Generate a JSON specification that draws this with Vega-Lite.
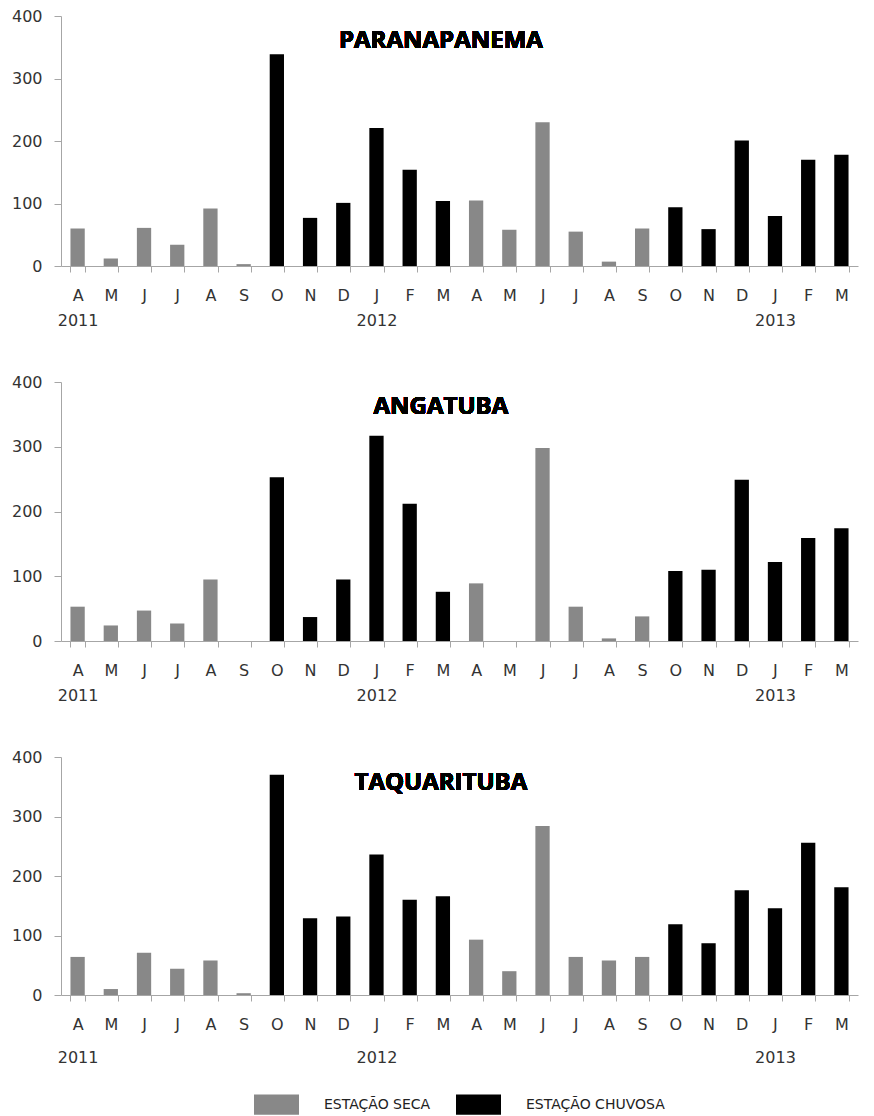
{
  "$schema": "https://vega.github.io/schema/vega-lite/v6.json",
  "padding": {"left": 11, "top": 8, "right": 5, "bottom": 0},
  "data": {
    "values": [
      {"posto": "PARANAPANEMA", "mes": "2011-04", "valor": 60, "periodo": "ESTAÇÃO SECA"},
      {"posto": "PARANAPANEMA", "mes": "2011-05", "valor": 12, "periodo": "ESTAÇÃO SECA"},
      {"posto": "PARANAPANEMA", "mes": "2011-06", "valor": 61, "periodo": "ESTAÇÃO SECA"},
      {"posto": "PARANAPANEMA", "mes": "2011-07", "valor": 34, "periodo": "ESTAÇÃO SECA"},
      {"posto": "PARANAPANEMA", "mes": "2011-08", "valor": 92, "periodo": "ESTAÇÃO SECA"},
      {"posto": "PARANAPANEMA", "mes": "2011-09", "valor": 3, "periodo": "ESTAÇÃO SECA"},
      {"posto": "PARANAPANEMA", "mes": "2011-10", "valor": 339, "periodo": "ESTAÇÃO CHUVOSA"},
      {"posto": "PARANAPANEMA", "mes": "2011-11", "valor": 77, "periodo": "ESTAÇÃO CHUVOSA"},
      {"posto": "PARANAPANEMA", "mes": "2011-12", "valor": 101, "periodo": "ESTAÇÃO CHUVOSA"},
      {"posto": "PARANAPANEMA", "mes": "2012-01", "valor": 221, "periodo": "ESTAÇÃO CHUVOSA"},
      {"posto": "PARANAPANEMA", "mes": "2012-02", "valor": 154, "periodo": "ESTAÇÃO CHUVOSA"},
      {"posto": "PARANAPANEMA", "mes": "2012-03", "valor": 104, "periodo": "ESTAÇÃO CHUVOSA"},
      {"posto": "PARANAPANEMA", "mes": "2012-04", "valor": 105, "periodo": "ESTAÇÃO SECA"},
      {"posto": "PARANAPANEMA", "mes": "2012-05", "valor": 58, "periodo": "ESTAÇÃO SECA"},
      {"posto": "PARANAPANEMA", "mes": "2012-06", "valor": 230, "periodo": "ESTAÇÃO SECA"},
      {"posto": "PARANAPANEMA", "mes": "2012-07", "valor": 55, "periodo": "ESTAÇÃO SECA"},
      {"posto": "PARANAPANEMA", "mes": "2012-08", "valor": 7, "periodo": "ESTAÇÃO SECA"},
      {"posto": "PARANAPANEMA", "mes": "2012-09", "valor": 60, "periodo": "ESTAÇÃO SECA"},
      {"posto": "PARANAPANEMA", "mes": "2012-10", "valor": 94, "periodo": "ESTAÇÃO CHUVOSA"},
      {"posto": "PARANAPANEMA", "mes": "2012-11", "valor": 59, "periodo": "ESTAÇÃO CHUVOSA"},
      {"posto": "PARANAPANEMA", "mes": "2012-12", "valor": 201, "periodo": "ESTAÇÃO CHUVOSA"},
      {"posto": "PARANAPANEMA", "mes": "2013-01", "valor": 80, "periodo": "ESTAÇÃO CHUVOSA"},
      {"posto": "PARANAPANEMA", "mes": "2013-02", "valor": 170, "periodo": "ESTAÇÃO CHUVOSA"},
      {"posto": "PARANAPANEMA", "mes": "2013-03", "valor": 178, "periodo": "ESTAÇÃO CHUVOSA"},
      {"posto": "ANGATUBA", "mes": "2011-04", "valor": 53, "periodo": "ESTAÇÃO SECA"},
      {"posto": "ANGATUBA", "mes": "2011-05", "valor": 24, "periodo": "ESTAÇÃO SECA"},
      {"posto": "ANGATUBA", "mes": "2011-06", "valor": 47, "periodo": "ESTAÇÃO SECA"},
      {"posto": "ANGATUBA", "mes": "2011-07", "valor": 27, "periodo": "ESTAÇÃO SECA"},
      {"posto": "ANGATUBA", "mes": "2011-08", "valor": 95, "periodo": "ESTAÇÃO SECA"},
      {"posto": "ANGATUBA", "mes": "2011-09", "valor": 0, "periodo": "ESTAÇÃO SECA"},
      {"posto": "ANGATUBA", "mes": "2011-10", "valor": 253, "periodo": "ESTAÇÃO CHUVOSA"},
      {"posto": "ANGATUBA", "mes": "2011-11", "valor": 37, "periodo": "ESTAÇÃO CHUVOSA"},
      {"posto": "ANGATUBA", "mes": "2011-12", "valor": 95, "periodo": "ESTAÇÃO CHUVOSA"},
      {"posto": "ANGATUBA", "mes": "2012-01", "valor": 317, "periodo": "ESTAÇÃO CHUVOSA"},
      {"posto": "ANGATUBA", "mes": "2012-02", "valor": 212, "periodo": "ESTAÇÃO CHUVOSA"},
      {"posto": "ANGATUBA", "mes": "2012-03", "valor": 76, "periodo": "ESTAÇÃO CHUVOSA"},
      {"posto": "ANGATUBA", "mes": "2012-04", "valor": 89, "periodo": "ESTAÇÃO SECA"},
      {"posto": "ANGATUBA", "mes": "2012-05", "valor": 0, "periodo": "ESTAÇÃO SECA"},
      {"posto": "ANGATUBA", "mes": "2012-06", "valor": 298, "periodo": "ESTAÇÃO SECA"},
      {"posto": "ANGATUBA", "mes": "2012-07", "valor": 53, "periodo": "ESTAÇÃO SECA"},
      {"posto": "ANGATUBA", "mes": "2012-08", "valor": 4, "periodo": "ESTAÇÃO SECA"},
      {"posto": "ANGATUBA", "mes": "2012-09", "valor": 38, "periodo": "ESTAÇÃO SECA"},
      {"posto": "ANGATUBA", "mes": "2012-10", "valor": 108, "periodo": "ESTAÇÃO CHUVOSA"},
      {"posto": "ANGATUBA", "mes": "2012-11", "valor": 110, "periodo": "ESTAÇÃO CHUVOSA"},
      {"posto": "ANGATUBA", "mes": "2012-12", "valor": 249, "periodo": "ESTAÇÃO CHUVOSA"},
      {"posto": "ANGATUBA", "mes": "2013-01", "valor": 122, "periodo": "ESTAÇÃO CHUVOSA"},
      {"posto": "ANGATUBA", "mes": "2013-02", "valor": 159, "periodo": "ESTAÇÃO CHUVOSA"},
      {"posto": "ANGATUBA", "mes": "2013-03", "valor": 174, "periodo": "ESTAÇÃO CHUVOSA"},
      {"posto": "TAQUARITUBA", "mes": "2011-04", "valor": 64, "periodo": "ESTAÇÃO SECA"},
      {"posto": "TAQUARITUBA", "mes": "2011-05", "valor": 10, "periodo": "ESTAÇÃO SECA"},
      {"posto": "TAQUARITUBA", "mes": "2011-06", "valor": 71, "periodo": "ESTAÇÃO SECA"},
      {"posto": "TAQUARITUBA", "mes": "2011-07", "valor": 44, "periodo": "ESTAÇÃO SECA"},
      {"posto": "TAQUARITUBA", "mes": "2011-08", "valor": 58, "periodo": "ESTAÇÃO SECA"},
      {"posto": "TAQUARITUBA", "mes": "2011-09", "valor": 3, "periodo": "ESTAÇÃO SECA"},
      {"posto": "TAQUARITUBA", "mes": "2011-10", "valor": 370, "periodo": "ESTAÇÃO CHUVOSA"},
      {"posto": "TAQUARITUBA", "mes": "2011-11", "valor": 129, "periodo": "ESTAÇÃO CHUVOSA"},
      {"posto": "TAQUARITUBA", "mes": "2011-12", "valor": 132, "periodo": "ESTAÇÃO CHUVOSA"},
      {"posto": "TAQUARITUBA", "mes": "2012-01", "valor": 236, "periodo": "ESTAÇÃO CHUVOSA"},
      {"posto": "TAQUARITUBA", "mes": "2012-02", "valor": 160, "periodo": "ESTAÇÃO CHUVOSA"},
      {"posto": "TAQUARITUBA", "mes": "2012-03", "valor": 166, "periodo": "ESTAÇÃO CHUVOSA"},
      {"posto": "TAQUARITUBA", "mes": "2012-04", "valor": 93, "periodo": "ESTAÇÃO SECA"},
      {"posto": "TAQUARITUBA", "mes": "2012-05", "valor": 40, "periodo": "ESTAÇÃO SECA"},
      {"posto": "TAQUARITUBA", "mes": "2012-06", "valor": 284, "periodo": "ESTAÇÃO SECA"},
      {"posto": "TAQUARITUBA", "mes": "2012-07", "valor": 64, "periodo": "ESTAÇÃO SECA"},
      {"posto": "TAQUARITUBA", "mes": "2012-08", "valor": 58, "periodo": "ESTAÇÃO SECA"},
      {"posto": "TAQUARITUBA", "mes": "2012-09", "valor": 64, "periodo": "ESTAÇÃO SECA"},
      {"posto": "TAQUARITUBA", "mes": "2012-10", "valor": 119, "periodo": "ESTAÇÃO CHUVOSA"},
      {"posto": "TAQUARITUBA", "mes": "2012-11", "valor": 87, "periodo": "ESTAÇÃO CHUVOSA"},
      {"posto": "TAQUARITUBA", "mes": "2012-12", "valor": 176, "periodo": "ESTAÇÃO CHUVOSA"},
      {"posto": "TAQUARITUBA", "mes": "2013-01", "valor": 146, "periodo": "ESTAÇÃO CHUVOSA"},
      {"posto": "TAQUARITUBA", "mes": "2013-02", "valor": 256, "periodo": "ESTAÇÃO CHUVOSA"},
      {"posto": "TAQUARITUBA", "mes": "2013-03", "valor": 181, "periodo": "ESTAÇÃO CHUVOSA"}
    ]
  },
  "spacing": 116,
  "bounds": "flush",
  "vconcat": [
    {
      "transform": [{"filter": "datum.posto == 'PARANAPANEMA'"}],
      "width": 797,
      "height": 250,
      "encoding": {
        "x": {"field": "mes", "type": "ordinal", "scale": {"paddingInner": 0.57, "paddingOuter": 0.285},
          "axis": {"labelLineHeight": 25}},
        "y": {"field": "valor", "type": "quantitative", "scale": {"domain": [0, 400]},
          "axis": {"values": [0, 100, 200, 300, 400]}}
      },
      "layer": [
        {
          "mark": {"type": "bar"},
          "encoding": {
            "color": {"field": "periodo", "type": "nominal", "legend": {"title": null},
              "scale": {"domain": ["ESTAÇÃO SECA", "ESTAÇÃO CHUVOSA"], "range": ["#888888", "#000000"]}}
          }
        },
        {
          "mark": {"type": "text", "font": "Open Sans", "fontSize": 24, "fontWeight": "bold", "fill": "#000000", "baseline": "alphabetic", "dx": -2},
          "encoding": {
            "x": {"datum": "2012-03"},
            "y": {"datum": 349},
            "text": {"value": "PARANAPANEMA"}
          }
        }
      ]
    },
    {
      "transform": [{"filter": "datum.posto == 'ANGATUBA'"}],
      "width": 797,
      "height": 259,
      "encoding": {
        "x": {"field": "mes", "type": "ordinal", "scale": {"paddingInner": 0.57, "paddingOuter": 0.285},
          "axis": {"labelLineHeight": 25}},
        "y": {"field": "valor", "type": "quantitative", "scale": {"domain": [0, 400]},
          "axis": {"values": [0, 100, 200, 300, 400]}}
      },
      "layer": [
        {
          "mark": {"type": "bar"},
          "encoding": {
            "color": {"field": "periodo", "type": "nominal", "legend": {"title": null},
              "scale": {"domain": ["ESTAÇÃO SECA", "ESTAÇÃO CHUVOSA"], "range": ["#888888", "#000000"]}}
          }
        },
        {
          "mark": {"type": "text", "font": "Open Sans", "fontSize": 24, "fontWeight": "bold", "fill": "#000000", "baseline": "alphabetic", "dx": -2},
          "encoding": {
            "x": {"datum": "2012-03"},
            "y": {"datum": 350},
            "text": {"value": "ANGATUBA"}
          }
        }
      ]
    },
    {
      "transform": [{"filter": "datum.posto == 'TAQUARITUBA'"}],
      "width": 797,
      "height": 238,
      "encoding": {
        "x": {"field": "mes", "type": "ordinal", "scale": {"paddingInner": 0.57, "paddingOuter": 0.285},
          "axis": {"labelLineHeight": 33}},
        "y": {"field": "valor", "type": "quantitative", "scale": {"domain": [0, 400]},
          "axis": {"values": [0, 100, 200, 300, 400]}}
      },
      "layer": [
        {
          "mark": {"type": "bar"},
          "encoding": {
            "color": {"field": "periodo", "type": "nominal", "legend": {"title": null},
              "scale": {"domain": ["ESTAÇÃO SECA", "ESTAÇÃO CHUVOSA"], "range": ["#888888", "#000000"]}}
          }
        },
        {
          "mark": {"type": "text", "font": "Open Sans", "fontSize": 24, "fontWeight": "bold", "fill": "#000000", "baseline": "alphabetic", "dx": -2},
          "encoding": {
            "x": {"datum": "2012-03"},
            "y": {"datum": 344},
            "text": {"value": "TAQUARITUBA"}
          }
        }
      ]
    }
  ],
  "config": {
    "view": {"stroke": null},
    "font": "DejaVu Sans",
    "axis": {
      "title": null,
      "grid": false,
      "domainColor": "#a6a6a6",
      "tickColor": "#a6a6a6",
      "labelFont": "DejaVu Sans",
      "labelFontSize": 16,
      "labelColor": "#333333"
    },
    "axisX": {
      "labelAngle": 0,
      "tickBand": "extent",
      "tickSize": 6,
      "labelPadding": 15,
      "labelExpr": "[substring('JFMAMJJASOND', toNumber(substring(datum.value, 5, 7)) - 1, toNumber(substring(datum.value, 5, 7))), datum.value == '2011-04' ? '2011' : (substring(datum.value, 5, 7) == '01' ? substring(datum.value, 0, 4) : '')]"
    },
    "axisY": {
      "tickSize": 7,
      "labelPadding": 12
    },
    "legend": {
      "orient": "bottom",
      "direction": "horizontal",
      "offset": 17,
      "layout": {"bottom": {"anchor": "middle"}},
      "symbolType": "M-1,-0.45H1V0.45H-1Z",
      "symbolSize": 2025,
      "symbolStrokeWidth": 0,
      "labelFont": "DejaVu Sans",
      "labelFontSize": 14,
      "labelColor": "#222222",
      "labelOffset": 25,
      "columnPadding": 25
    }
  }
}
